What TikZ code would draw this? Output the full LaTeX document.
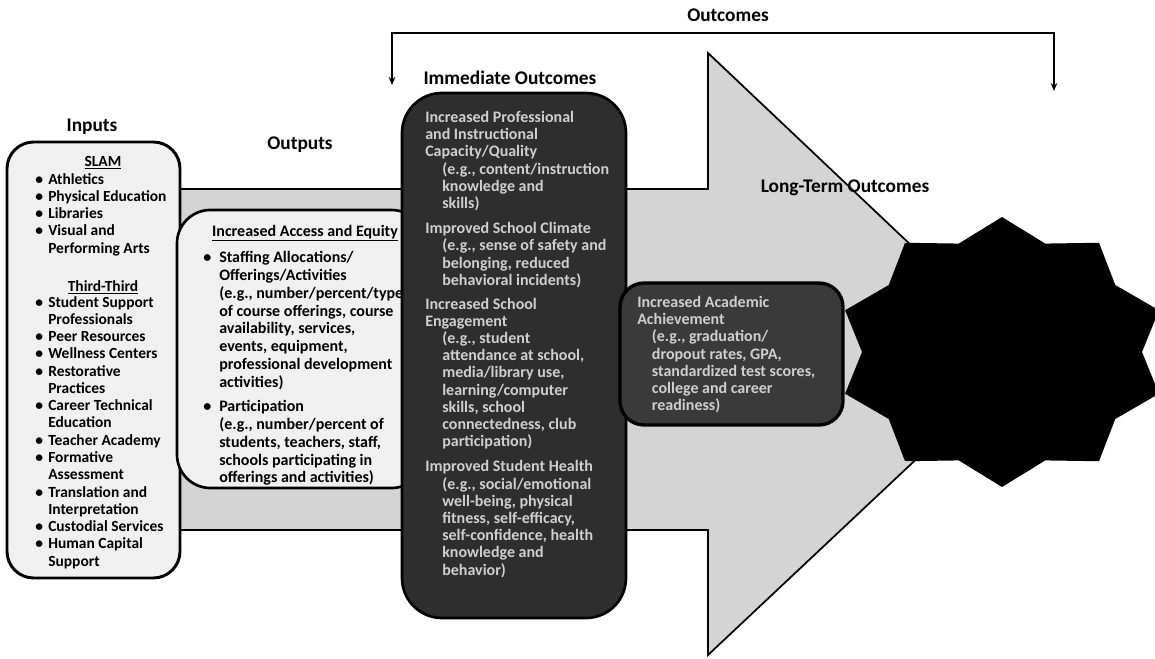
\documentclass[tikz,border=0pt]{standalone}
\usepackage{fontspec}
\setmainfont{Carlito}
\usetikzlibrary{arrows.meta}
\definecolor{arrowgray}{HTML}{D4D4D4}
\definecolor{boxfill}{HTML}{F0F0F0}
\definecolor{darkfill}{HTML}{2E2E2E}
\definecolor{ltfill}{HTML}{3A3A3A}
\definecolor{darktext}{HTML}{CFCFCF}
\newcommand\bul{\makebox[9.75pt][l]{\textbullet}}
\newcommand\inbul{\hspace*{9.75pt}}
\newcommand\obul{\makebox[12pt][l]{\textbullet}}
\newcommand\oind{\hspace*{12pt}}
\newcommand\egind{\hspace*{12.75pt}}
\newcommand\ltind{\hspace*{11pt}}
\begin{document}
\begin{tikzpicture}[x=0.75pt,y=-0.75pt,
  lbl/.style={font=\bfseries\fontsize{14.5}{16}\selectfont, inner sep=0},
  inbody/.style={font=\bfseries\fontsize{11.6}{12.95}\selectfont, align=left, inner sep=0, anchor=north west},
  outbody/.style={font=\bfseries\fontsize{12}{13.4}\selectfont, align=left, inner sep=0, anchor=north west},
  darkbody/.style={font=\bfseries\fontsize{12}{12.9}\selectfont, align=left, inner sep=0, anchor=north west, text=darktext},
  bracket/.style={line width=0.8pt, {Stealth[length=6pt,width=5pt]}-{Stealth[length=6pt,width=5pt]}}]
\useasboundingbox (0,0) rectangle (1155,659);
\fill[white] (0,0) rectangle (1155,659);

% big arrow
\draw[line width=1.3pt, fill=arrowgray] (180,189) -- (708,189) -- (708,53) -- (1027,355) -- (708,655) -- (708,530) -- (180,530) -- cycle;

% inputs box
\draw[line width=2.2pt, fill=boxfill, rounded corners=20] (7,142) rectangle (180,578);
\node[lbl] (inputsl) at (92,127) {Inputs};
\node[font=\bfseries\fontsize{11.6}{13}\selectfont, inner sep=0] (slam) at (103,163) {\underline{SLAM}};
\node[inbody] (inA) at (35,173) {\bul Athletics\\ \bul Physical Education\\ \bul Libraries\\ \bul Visual and\\ \inbul Performing Arts};
\node[font=\bfseries\fontsize{11.6}{13}\selectfont, inner sep=0] (third) at (103,287) {\underline{Third-Third}};
\node[inbody] (inB) at (35,296) {\bul Student Support\\ \inbul Professionals\\ \bul Peer Resources\\ \bul Wellness Centers\\ \bul Restorative\\ \inbul Practices\\ \bul Career Technical\\ \inbul Education\\ \bul Teacher Academy\\ \bul Formative\\ \inbul Assessment\\ \bul Translation and\\ \inbul Interpretation\\ \bul Custodial Services\\ \bul Human Capital\\ \inbul Support};

% outputs box
\node[lbl] (outputsl) at (300,145) {Outputs};
\draw[line width=2pt, fill=boxfill, rounded corners=25] (177,210) rectangle (425,488);
\node[font=\bfseries\fontsize{12}{13}\selectfont, inner sep=0] (accessh) at (305,233) {\underline{Increased Access and Equity}};
\node[outbody] (outA) at (203,251) {\obul Staffing Allocations/\\ \oind Offerings/Activities\\ \oind (e.g., number/percent/type\\ \oind of course offerings, course\\ \oind availability, services,\\ \oind events, equipment,\\ \oind professional development\\ \oind activities)\\[4.5pt] \obul Participation\\ \oind (e.g., number/percent of\\ \oind students, teachers, staff,\\ \oind schools participating in\\ \oind offerings and activities)};

% immediate outcomes box
\node[lbl] (immedl) at (510,78) {Immediate Outcomes};
\draw[line width=2pt, fill=darkfill, rounded corners=30] (402,93) rectangle (626,618);
\node[darkbody] (immA) at (425,111) {Increased Professional\\ and Instructional\\ Capacity/Quality\\ \egind (e.g., content/instruction\\ \egind knowledge and\\ \egind skills)\\[6pt]
Improved School Climate\\ \egind (e.g., sense of safety and\\ \egind belonging, reduced\\ \egind behavioral incidents)\\[5pt]
Increased School\\ Engagement\\ \egind (e.g., student\\ \egind attendance at school,\\ \egind media/library use,\\ \egind learning/computer\\ \egind skills, school\\ \egind connectedness, club\\ \egind participation)\\[6pt]
Improved Student Health\\ \egind (e.g., social/emotional\\ \egind well-being, physical\\ \egind fitness, self-efficacy,\\ \egind self-confidence, health\\ \egind knowledge and\\ \egind behavior)};

% long-term outcomes box
\node[lbl] (longl) at (845,188) {Long-Term Outcomes};
\draw[line width=2.5pt, fill=ltfill, rounded corners=18] (620,283) rectangle (843,425);
\node[darkbody] (ltA) at (637,296) {Increased Academic\\ Achievement\\ \ltind (e.g., graduation/\\ \ltind dropout rates, GPA,\\ \ltind standardized test scores,\\ \ltind college and career\\ \ltind readiness)};

% star
\fill[black, shift={(1002,352)}] (90:{165} and {135})
  \foreach \k [evaluate=\k as \rx using {mod(\k,2)==0 ? 165 : 140}, evaluate=\k as \ry using {mod(\k,2)==0 ? 135 : 114}] in {1,...,19} { -- ({90+18*\k}:{\rx} and {\ry}) } -- cycle;

% outcomes bracket
\node[lbl] (outcomesl) at (728,15) {Outcomes};
\coordinate (bl) at (392,85);
\coordinate (blt) at (392,33);
\coordinate (brt) at (1054,33);
\coordinate (br) at (1054,91);
\draw[bracket] (bl) -- (blt) -- (brt) -- (br);
\end{tikzpicture}
\end{document}
